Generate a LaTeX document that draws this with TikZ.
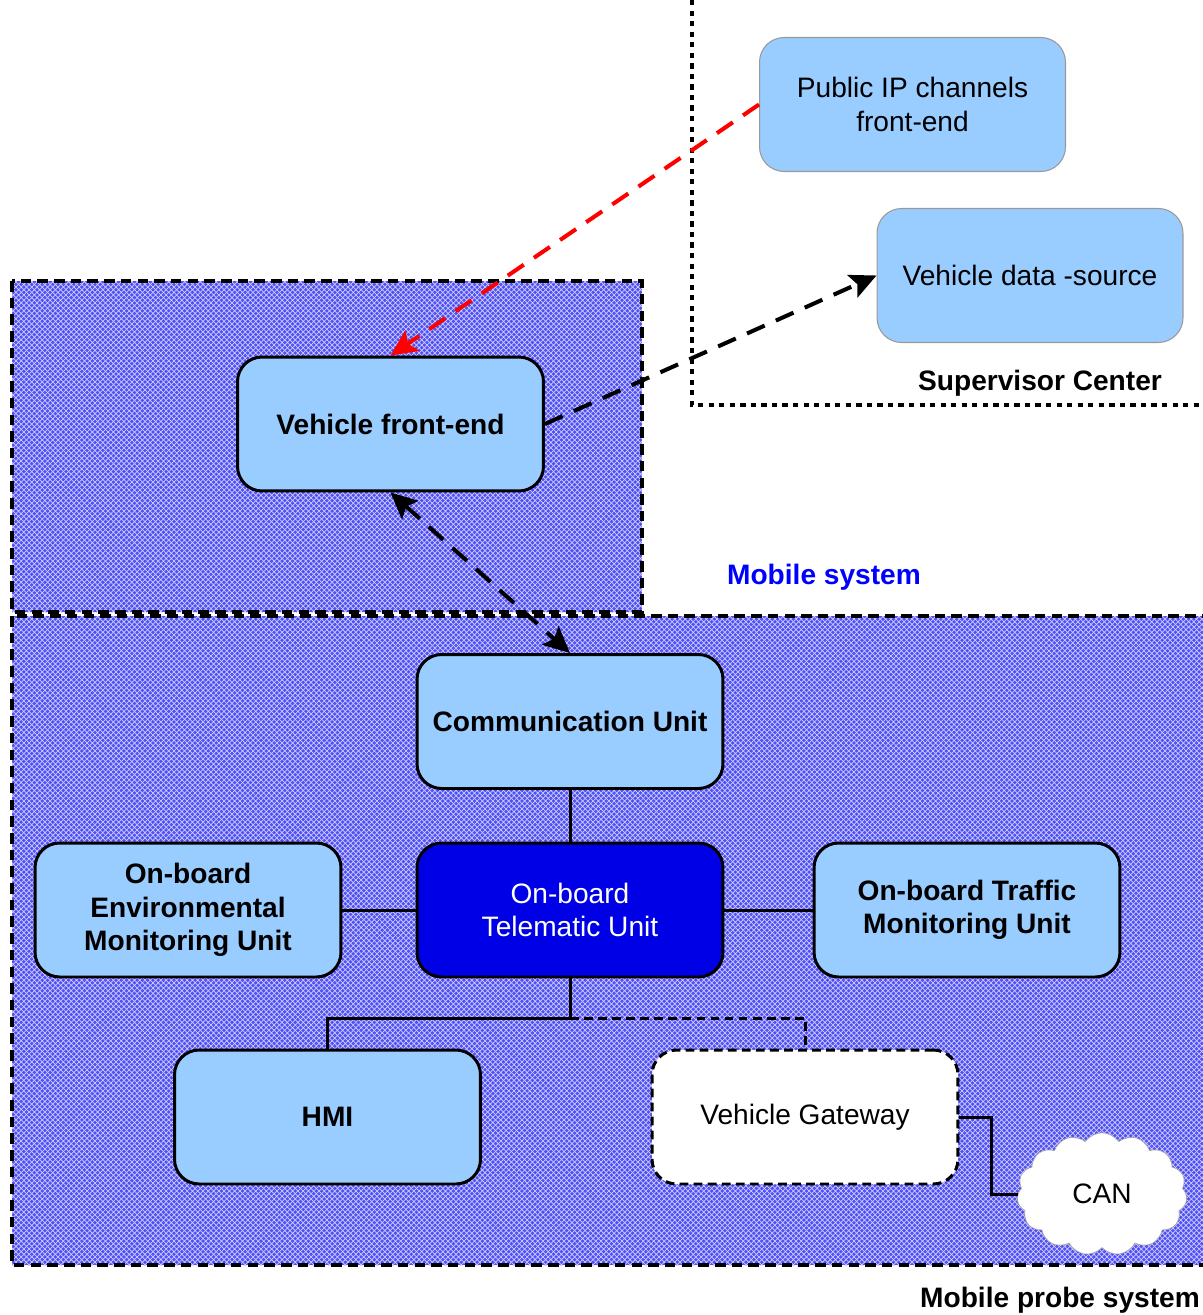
\documentclass[tikz,border=0pt]{standalone}
\usepackage{fontspec}
\setmainfont{Liberation Sans}
\usetikzlibrary{arrows.meta,patterns,shapes.symbols}

\definecolor{boxblue}{RGB}{153,204,255}
\definecolor{darkunit}{RGB}{0,0,230}
\definecolor{hatchblue}{RGB}{80,80,245}
\definecolor{hatchline}{RGB}{205,205,255}

\tikzset{
  unit/.style={draw=black,line width=1.7pt,rounded corners=14pt,fill=boxblue,
    minimum width=6.12cm,minimum height=2.68cm,align=center,
    font=\fontsize{16}{19}\selectfont\bfseries},
  center/.style={unit,draw=gray!80,line width=0.6pt,font=\fontsize{16}{19}\selectfont},
  area/.style={line width=2.4pt,dash pattern=on 6pt off 3.5pt,
    preaction={fill=hatchblue},pattern=crosshatch,pattern color=hatchline},
  border/.style={line width=2.2pt,dash pattern=on 3pt off 3pt},
  link/.style={line width=1.7pt},
  flow/.style={line width=2.3pt,dash pattern=on 11pt off 7pt},
}

\begin{document}
\begin{tikzpicture}[x=0.02cm,y=-0.02cm,>={Stealth[length=15pt,width=14pt,inset=3pt]}]
  \useasboundingbox (0,0) rectangle (1203,1315);

  % areas
  \draw[area] (12,281) rectangle (642,612);
  \draw[area] (12,616) rectangle (1215,1265);
  \draw[border] (692,0) -- (692,405) -- (1215,405);

  \node[font=\fontsize{16}{19}\selectfont\bfseries] (sclabel) at (1040,383) {Supervisor Center};
  \node[font=\fontsize{16}{19}\selectfont\bfseries,text=blue] (mslabel) at (824,577) {Mobile system};
  \node[font=\fontsize{16}{19}\selectfont\bfseries] (mplabel) at (1060,1300) {Mobile probe system};

  % supervisor center
  \node[center] (pubip) at (912.5,104.5) {Public IP channels\\front-end};
  \node[center] (vds) at (1030,275.5) {Vehicle data -source};

  % mobile system
  \node[unit] (vfe) at (390.5,424) {Vehicle front-end};
  \node[unit] (comm) at (570,721.5) {Communication Unit};
  \node[unit,fill=darkunit,text=white,font=\fontsize{16}{19}\selectfont] (tele) at (570,910) {On-board\\Telematic Unit};
  \node[unit] (env) at (188,910) {On-board\\Environmental\\Monitoring Unit};
  \node[unit] (traffic) at (967,910) {On-board Traffic\\Monitoring Unit};
  \node[unit] (hmi) at (327.5,1117) {HMI};
  \node[unit,fill=white,dash pattern=on 5pt off 3pt,font=\fontsize{16}{19}\selectfont] (gw) at (805,1117) {Vehicle Gateway};
  \node[cloud,cloud puffs=15,cloud puff arc=110,aspect=1.4,draw=gray!70,fill=white,
    minimum width=3.4cm,minimum height=2.45cm,font=\fontsize{16}{19}\selectfont] (can) at (1102,1194) {CAN};

  \coordinate (junc) at (570,1018);

  % connectors
  \draw[flow,red,->] (pubip.west) -- (vfe.north);
  \draw[flow,->] (vfe.east) -- (vds.west);
  \draw[flow,<->] (vfe.south) -- (comm.north);
  \draw[link] (comm) -- (tele);
  \draw[link] (env) -- (tele);
  \draw[link] (tele) -- (traffic);
  \draw[link] (tele.south) -- (junc) -| (hmi.north);
  \draw[link,dash pattern=on 5pt off 3pt] (junc) -| (gw.north);
  \draw[link] (gw.east) -- ++(32,0) |- (can.west);
\end{tikzpicture}
\end{document}
